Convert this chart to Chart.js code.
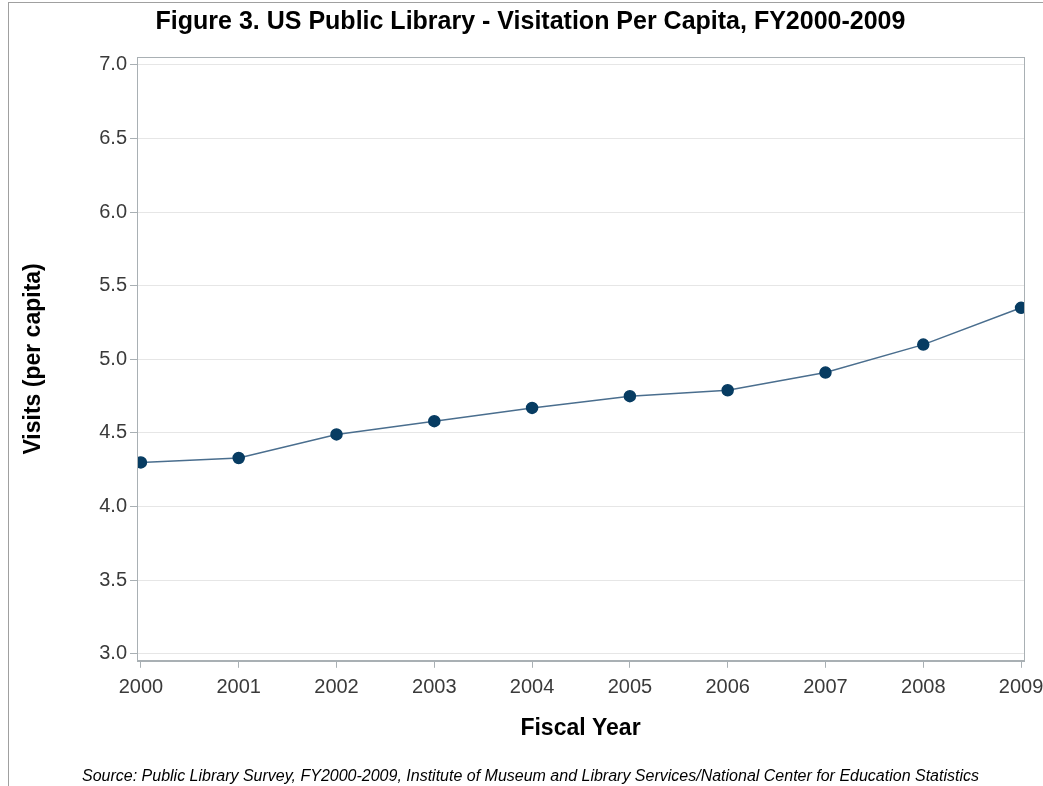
<!DOCTYPE html>
<html>
<head>
<meta charset="utf-8">
<script src="https://cdn.jsdelivr.net/npm/chart.js@4/dist/chart.umd.min.js"></script>
<style>
	body { margin: 0; background: #fff; }
	#wrap { position: relative; width: 1043px; height: 786px; }
	#frame { position: absolute; left: 8px; top: 2px; right: -2px; bottom: -2px; border-left: 1px solid #a0a0a0; border-top: 1px solid #a0a0a0; }
	canvas { position: absolute; left: 0; top: 0; }
</style>
</head>
<body>
<div id="wrap">
	<div id="frame"></div>
	<canvas id="visitChart" width="1043" height="786"></canvas>
</div>
<script>
// fiscal years and visits per capita
const years = [2000, 2001, 2002, 2003, 2004, 2005, 2006, 2007, 2008, 2009];
const visits = [4.30, 4.33, 4.49, 4.58, 4.67, 4.75, 4.79, 4.91, 5.10, 5.35];
const yTicks = [3.0, 3.5, 4.0, 4.5, 5.0, 5.5, 6.0, 6.5, 7.0];

const sansFont = '"Liberation Sans", Arial, sans-serif';

// plot frame around the chart area
const frameBox = {
	id: 'frameBox',
	afterDraw(chart) {
		const a = chart.chartArea;
		const c = chart.ctx;
		c.save();
		c.strokeStyle = '#a9b0b4';
		c.lineWidth = 1;
		c.strokeRect(Math.round(a.left) + 0.5, Math.round(a.top) + 0.5, Math.round(a.right - a.left), Math.round(a.bottom - a.top));
		c.restore();
	}
};

const ctx = document.getElementById('visitChart').getContext('2d');
new Chart(ctx, {
	type: 'line',
	data: {
		datasets: [{
			label: 'Visits (per capita)',
			data: years.map((yr, i) => ({ x: yr, y: visits[i] })),
			borderColor: '#4a6e8e',
			borderWidth: 1.5,
			pointBackgroundColor: '#073c62',
			pointBorderColor: '#073c62',
			pointRadius: 5.5,
			tension: 0
		}]
	},
	options: {
		responsive: false,
		maintainAspectRatio: false,
		animation: false,
		layout: { padding: { left: 18, right: 0, top: 7, bottom: 0 } },
		plugins: {
			legend: { display: false },
			tooltip: { enabled: false },
			title: {
				display: true,
				text: 'Figure 3. US Public Library - Visitation Per Capita, FY2000-2009',
				color: '#000',
				font: { family: sansFont, size: 25, weight: 'bold' },
				padding: { top: 0, bottom: 20 }
			},
			subtitle: {
				display: true,
				position: 'bottom',
				text: 'Source: Public Library Survey, FY2000-2009, Institute of Museum and Library Services/National Center for Education Statistics',
				color: '#000',
				font: { family: sansFont, size: 16, style: 'italic' },
				padding: { top: 0, bottom: 0 }
			}
		},
		scales: {
			x: {
				type: 'linear',
				min: 1999.96,
				max: 2009.03,
				afterBuildTicks: (scale) => { scale.ticks = years.map(v => ({ value: v })); },
				afterFit: (scale) => { scale.height = 106; scale.paddingRight = 19; },
				ticks: {
					color: '#3a3a3a',
					font: { family: sansFont, size: 20 },
					padding: 8,
					maxRotation: 0,
					autoSkip: false,
					callback: (v) => String(v)
				},
				grid: { drawOnChartArea: false, color: '#a9b0b4', tickLength: 7 },
				border: { color: '#a9b0b4' },
				title: {
					display: true,
					text: 'Fiscal Year',
					color: '#000',
					font: { family: sansFont, size: 23, weight: 'bold' },
					padding: { top: 10, bottom: 24 }
				}
			},
			y: {
				min: 2.952,
				max: 7.054,
				afterBuildTicks: (scale) => { scale.ticks = yTicks.map(v => ({ value: v })); },
				afterFit: (scale) => { scale.width = 119; },
				ticks: {
					color: '#3a3a3a',
					font: { family: sansFont, size: 20 },
					padding: 3,
					callback: (v) => v.toFixed(1)
				},
				grid: {
					color: '#e6e6e6',
					tickColor: '#a9b0b4',
					tickLength: 7
				},
				border: { color: '#a9b0b4' },
				title: {
					display: true,
					text: 'Visits (per capita)',
					color: '#000',
					font: { family: sansFont, size: 23, weight: 'bold' },
					padding: { top: 2, bottom: 10 }
				}
			}
		}
	},
	plugins: [frameBox]
});
</script>
</body>
</html>
